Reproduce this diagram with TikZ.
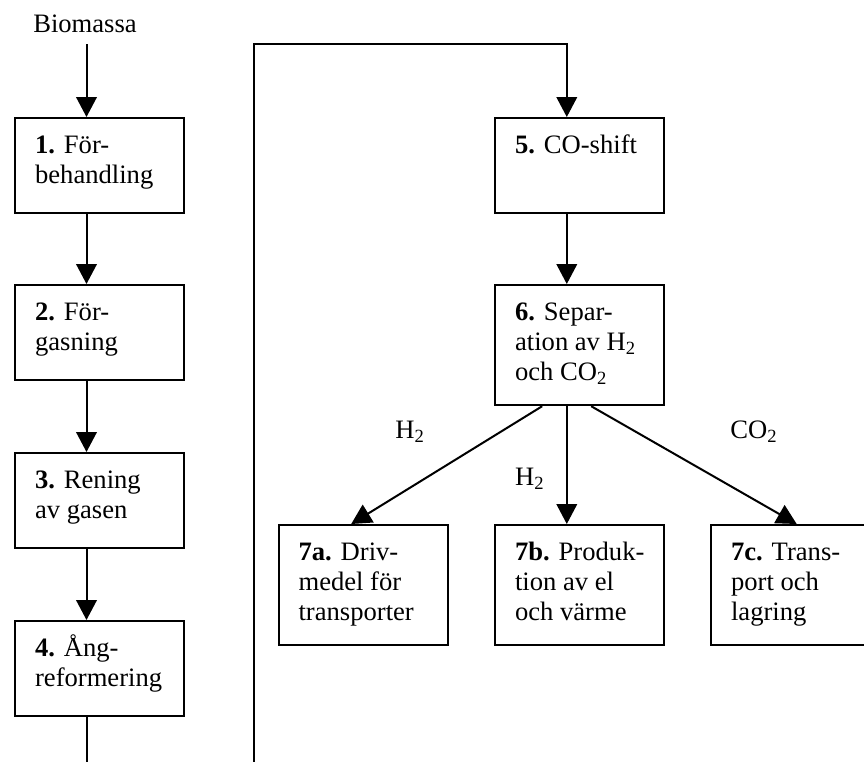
\documentclass[tikz,border=0pt]{standalone}
\usepackage{fontspec}
\setmainfont{Liberation Serif}
\usetikzlibrary{arrows.meta,calc}
\newcommand{\boxtxt}[3]{\parbox[c][#2][t]{#1}{\raggedright\leftskip=10pt\parindent=0pt\vspace*{5.5pt}\rule{0pt}{12pt}#3}}
\tikzset{
  box/.style={draw, line width=1.1pt, inner sep=0pt, anchor=north west, font=\fontsize{13.3}{15}\selectfont},
  arr/.style={line width=1pt, -{Triangle[width=10.3pt,length=10pt]}},
  plain/.style={line width=1pt},
  lbl/.style={inner sep=0pt, anchor=base west, font=\fontsize{13.3}{15}\selectfont}
}
\begin{document}
\begin{tikzpicture}[x=0.5pt,y=-0.5pt]
\useasboundingbox (0,0) rectangle (864,762);
% left column
\node[lbl, anchor=base] (bio) at (85,32) {Biomassa};
\coordinate (a0) at (86.5,44);
\node[box] (b1) at (14,117) {\boxtxt{84.5pt}{47.5pt}{\textbf{1.} För-\\behandling}};
\node[box] (b2) at (14,284) {\boxtxt{84.5pt}{47.5pt}{\textbf{2.} För-\\gasning}};
\node[box] (b3) at (14,452) {\boxtxt{84.5pt}{47.5pt}{\textbf{3.} Rening\\av gasen}};
\node[box] (b4) at (14,620) {\boxtxt{84.5pt}{47.5pt}{\textbf{4.} Ång-\\reformering}};
\draw[arr] (a0) -- (a0 |- b1.north);
\draw[arr] (a0 |- b1.south) -- (a0 |- b2.north);
\draw[arr] (a0 |- b2.south) -- (a0 |- b3.north);
\draw[arr] (a0 |- b3.south) -- (a0 |- b4.north);
\coordinate (l0) at (86.5,775);
\draw[plain] (a0 |- b4.south) -- (l0);
% right column
\node[box] (b5) at (494,117) {\boxtxt{84.5pt}{47.5pt}{\textbf{5.} CO-shift}};
\node[box] (b6) at (494,284) {\boxtxt{84.5pt}{60pt}{\textbf{6.} Separ-\\ation av H\textsubscript{2}\\och CO\textsubscript{2}}};
\node[box] (b7a) at (277.5,524) {\boxtxt{84.5pt}{60pt}{\textbf{7a.} Driv-\\medel för\\transporter}};
\node[box] (b7b) at (494,524) {\boxtxt{84.5pt}{60pt}{\textbf{7b.} Produk-\\tion av el\\och värme}};
\node[box] (b7c) at (710,524) {\boxtxt{84.5pt}{60pt}{\textbf{7c.} Trans-\\port och\\lagring}};
\coordinate (l1) at (254,775);
\coordinate (l2) at (254,44.3);
\coordinate (a5) at (566.8,44.3);
\draw[arr] (l1) -- (l2) -- (a5) -- (a5 |- b5.north);
\draw[arr] (a5 |- b5.south) -- (a5 |- b6.north);
\draw[arr] ($(b6.south west)+(48.2,0)$) -- ($(b7a.north west)+(73.7,0)$);
\draw[arr] (a5 |- b6.south) -- (a5 |- b7b.north);
\draw[arr] ($(b6.south west)+(97.2,0)$) -- ($(b7c.north west)+(86.7,0)$);
\node[lbl] (h1) at (395,438) {H\textsubscript{2}};
\node[lbl] (h2) at (514.7,485) {H\textsubscript{2}};
\node[lbl] (co) at (730,438) {CO\textsubscript{2}};
\end{tikzpicture}
\end{document}
